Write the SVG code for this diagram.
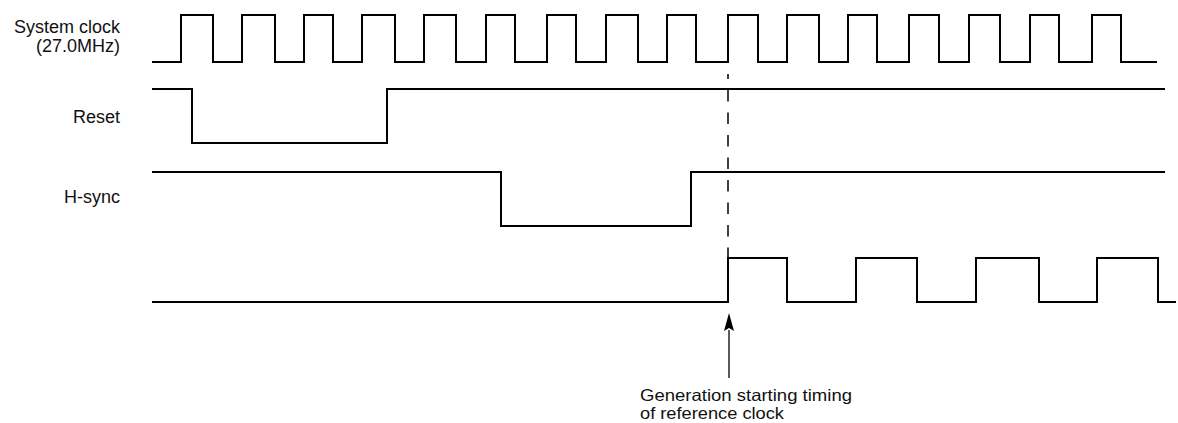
<svg xmlns="http://www.w3.org/2000/svg" width="1178" height="423" viewBox="0 0 1178 423">
<style>
.sig{fill:none;stroke:#000;stroke-width:2;stroke-linejoin:miter;stroke-linecap:butt}
.lbl{font-family:"Liberation Sans",Arial,sans-serif;font-size:18px;fill:#111}
.note{font-family:"Liberation Sans",Arial,sans-serif;font-size:16.5px;fill:#111}
.r{text-anchor:end}
</style>
<rect width="1178" height="423" fill="#fff"/>
<g id="labels">
<g id="lbl-clock"><text class="lbl r" x="120" y="33">System clock</text><text class="lbl r" x="120" y="52">(27.0MHz)</text></g>
<g id="lbl-reset"><text class="lbl r" x="120" y="123">Reset</text></g>
<g id="lbl-hsync"><text class="lbl r" x="120" y="203">H-sync</text></g>
</g>
<g id="sig-clock"><path class="sig" d="M152 62 H181 V15 H213 V62 H242 V15 H275 V62 H304 V15 H333 V62 H362 V15 H395 V62 H424 V15 H456 V62 H486 V15 H515 V62 H547 V15 H576 V62 H606 V15 H638 V62 H667 V15 H696 V62 H728 V15 H758 V62 H787 V15 H819 V62 H848 V15 H877 V62 H909 V15 H939 V62 H969 V15 H1000 V62 H1030 V15 H1059 V62 H1092 V15 H1121 V62 H1157"/></g>
<g id="sig-reset"><path class="sig" d="M152 89 H192 V143 H387 V89 H1165"/></g>
<g id="sig-hsync"><path class="sig" d="M152 172 H501 V226 H691 V172 H1165"/></g>
<g id="sig-ref"><path class="sig" d="M152 302 H728 V258 H787 V302 H856 V258 H917 V302 H976 V258 H1039 V302 H1097 V258 H1158 V302 H1176"/></g>
<g id="connectors">
<path d="M728 74 V258" fill="none" stroke="#000" stroke-width="1.5" stroke-dasharray="11.5 11" stroke-dashoffset="6.5"/>
<path d="M729 378 V330" fill="none" stroke="#000" stroke-width="1.3"/>
<path d="M729 313 L724 331 L729 328 L734 331 Z" fill="#000"/>
</g>
<g id="note"><text class="note" x="640" y="401" textLength="212" lengthAdjust="spacingAndGlyphs">Generation starting timing</text><text class="note" x="640" y="419" textLength="144" lengthAdjust="spacingAndGlyphs">of reference clock</text></g>
</svg>
